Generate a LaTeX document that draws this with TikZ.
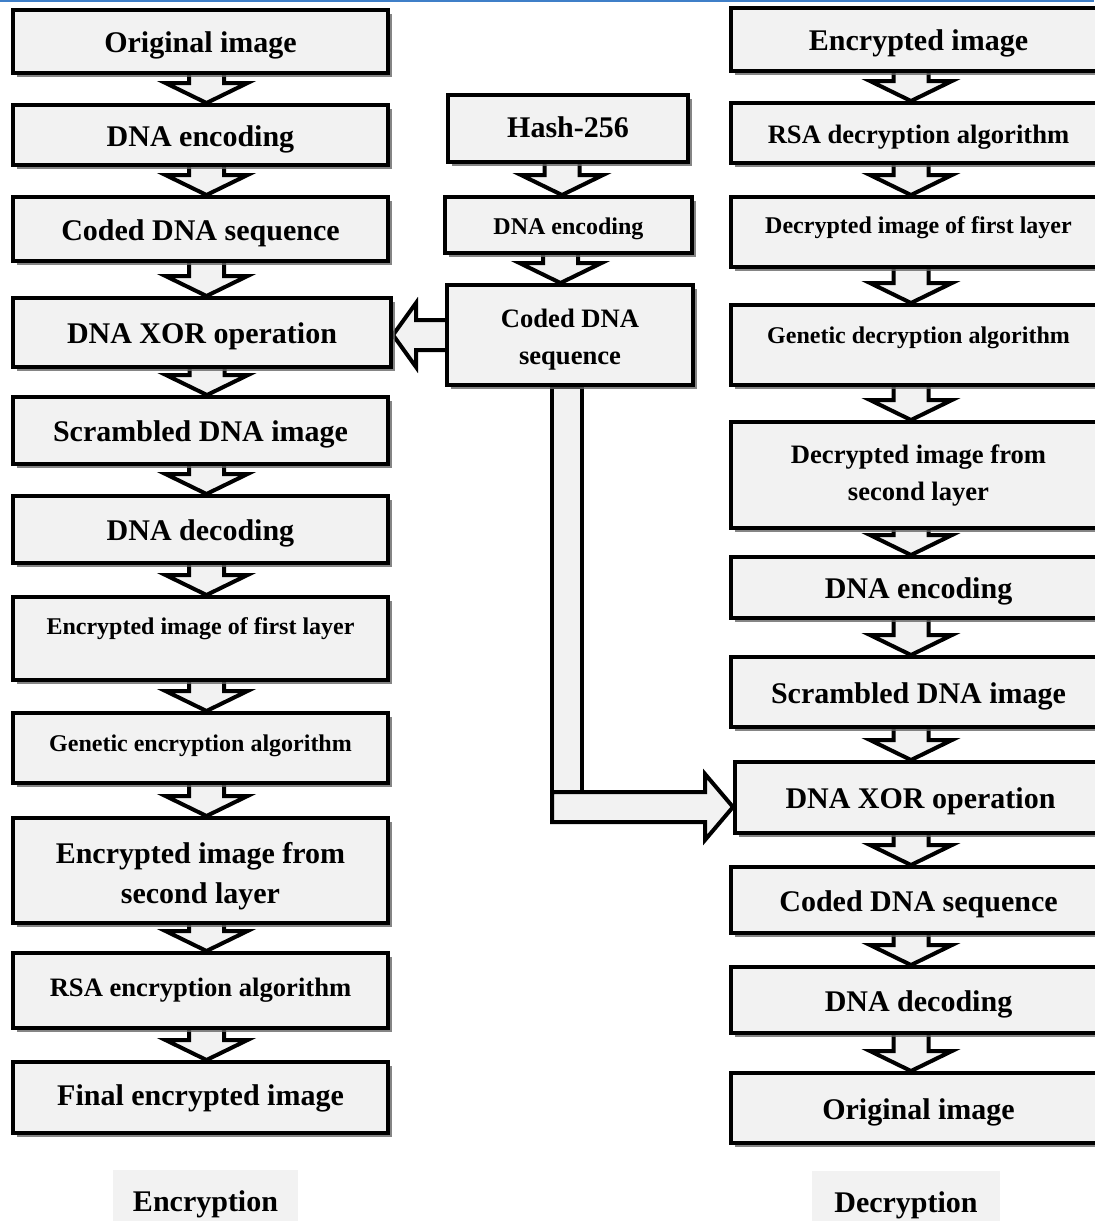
\documentclass[tikz,border=0pt]{standalone}
\usepackage{fontspec}
\setmainfont{Liberation Serif}
\usetikzlibrary{calc,shadows,backgrounds}

\definecolor{boxgray}{HTML}{F2F2F2}
\definecolor{pageblue}{HTML}{3F7FC8}

\tikzset{
  stepbox/.style={draw, line width=2pt, fill=boxgray, inner sep=0pt, align=center,
    font=\bfseries\fontsize{15}{20}\selectfont, text height=14.35pt, text depth=3.3pt,
    drop shadow={shadow xshift=1.8pt, shadow yshift=-1.8pt, fill=black!60, opacity=.8}},
  leftcol/.style={stepbox, minimum width=187.5pt},
  rightcol/.style={stepbox, minimum width=187.5pt},
  midtext/.style={font=\bfseries\fontsize{13.3}{18.5}\selectfont, text height=13.2pt, text depth=2.9pt},
  smalltext/.style={font=\bfseries\fontsize{12}{14}\selectfont, text height=12.3pt, text depth=2.6pt},
  blockarrow/.style={draw, line width=2pt, fill=boxgray, line join=miter},
  tagbox/.style={fill=boxgray, inner sep=0pt, font=\bfseries\fontsize{15}{20}\selectfont,
    text height=17.35pt, text depth=3.3pt},
}

% fat hollow arrow from the bottom of #1 down to the top of #2, shifted by #3
\newcommand{\downblock}[3]{%
  \draw[blockarrow] let \p1=($(#1.south)+(#3,0)$), \p2=(#2.north) in
    (\x1-8.75pt,\y1) -- (\x1-8.75pt,\y2+10pt) -- (\x1-20.5pt,\y2+10pt) -- (\x1,\y2)
    -- (\x1+20.5pt,\y2+10pt) -- (\x1+8.75pt,\y2+10pt) -- (\x1+8.75pt,\y1);
}

\begin{document}
\begin{tikzpicture}[x=0.5pt,y=-0.5pt]
    \path[use as bounding box] (0,0) rectangle (1094,1221);
    \draw[pageblue, line width=1pt] (0,1) -- (1094,1);

    % encryption
    \node[leftcol, minimum height=31.5pt] (l1) at (200.5,41.5) {Original image};
    \node[leftcol, minimum height=30pt] (l2) at (200.5,135) {DNA encoding};
    \node[leftcol, minimum height=32pt] (l3) at (200.5,229) {Coded DNA sequence};
    \node[stepbox, minimum width=189pt, minimum height=34.5pt] (l4) at (202,332.5) {DNA XOR operation};
    \node[leftcol, minimum height=33.5pt] (l5) at (200.5,430.5) {Scrambled DNA image};
    \node[leftcol, minimum height=33.5pt] (l6) at (200.5,529.5) {DNA decoding};
    \node[leftcol, smalltext, text depth=16.6pt, minimum height=41.5pt] (l7) at (200.5,638.5) {Encrypted image of first layer};
    \node[leftcol, smalltext, text depth=8.6pt, minimum height=35pt] (l8) at (200.5,748) {Genetic encryption algorithm};
    \node[leftcol, text height=36.3pt, minimum height=52.5pt] (l9) at (200.5,870.5) {Encrypted image from\\second layer};
    \node[leftcol, midtext, text depth=6.9pt, minimum height=37.5pt] (l10) at (200.5,990.5) {RSA encryption algorithm};
    \node[leftcol, text depth=6.3pt, minimum height=35.5pt] (l11) at (200.5,1097.5) {Final encrypted image};

    % key
    \node[stepbox, text depth=5.3pt, minimum width=120pt, minimum height=33.5pt] (m1) at (568,128.5) {Hash-256};
    \node[stepbox, smalltext, minimum width=123.5pt, minimum height=28pt] (m2) at (568.5,225) {DNA encoding};
    \node[stepbox, midtext, text height=32.6pt, minimum width=123pt, minimum height=50pt] (m3) at (570,335) {Coded DNA\\sequence};

    % decryption
    \node[rightcol, minimum height=31.5pt] (r1) at (918.5,39.5) {Encrypted image};
    \node[rightcol, midtext, minimum height=30pt] (r2) at (918.5,133) {RSA decryption algorithm};
    \node[rightcol, smalltext, text depth=10.6pt, minimum height=35pt] (r3) at (918.5,232) {Decrypted image of first layer};
    \node[rightcol, smalltext, text depth=13.6pt, minimum height=40pt] (r4) at (918.5,345) {Genetic decryption algorithm};
    \node[rightcol, midtext, text height=28.7pt, minimum height=53pt] (r5) at (918.5,475) {Decrypted image from\\second layer};
    \node[rightcol, minimum height=30.5pt] (r6) at (918.5,587.5) {DNA encoding};
    \node[rightcol, minimum height=35pt] (r7) at (918.5,692) {Scrambled DNA image};
    \node[stepbox, minimum width=185.5pt, minimum height=35.5pt] (r8) at (920.5,797.5) {DNA XOR operation};
    \node[rightcol, minimum height=33pt] (r9) at (918.5,900) {Coded DNA sequence};
    \node[rightcol, minimum height=33pt] (r10) at (918.5,1000) {DNA decoding};
    \node[rightcol, minimum height=35pt] (r11) at (918.5,1108) {Original image};

    \node[tagbox, minimum width=92.5pt, minimum height=27.5pt] (enc) at (205.5,1197.5) {Encryption};
    \node[tagbox, minimum width=94pt, minimum height=27.5pt] (dec) at (906,1198.5) {Decryption};

    \coordinate (turn) at ($(m3.south)+(-3,420)$);

    \begin{pgfonlayer}{background}
    \downblock{l1}{l2}{6}
    \downblock{l2}{l3}{6}
    \downblock{l3}{l4}{6}
    \downblock{l4}{l5}{5}
    \downblock{l5}{l6}{6}
    \downblock{l6}{l7}{6}
    \downblock{l7}{l8}{6}
    \downblock{l8}{l9}{6}
    \downblock{l9}{l10}{6}
    \downblock{l10}{l11}{6}

    \downblock{m1}{m2}{-6}
    \downblock{m2}{m3}{-8}

    \downblock{r1}{r2}{-7.5}
    \downblock{r2}{r3}{-7.5}
    \downblock{r3}{r4}{-7.5}
    \downblock{r4}{r5}{-7.5}
    \downblock{r5}{r6}{-7.5}
    \downblock{r6}{r7}{-7.5}
    \downblock{r7}{r8}{-7.5}
    \downblock{r8}{r9}{-9.5}
    \downblock{r9}{r10}{-7.5}
    \downblock{r10}{r11}{-7.5}

    % key into the two xor steps
    \draw[blockarrow] let \p1=(m3.west), \p2=(l4.east) in
      (\x1,\y1+7.5pt) -- (\x2+11.5pt,\y1+7.5pt) -- (\x2+11.5pt,\y1+16pt) -- (\x2,\y1)
      -- (\x2+11.5pt,\y1-16pt) -- (\x2+11.5pt,\y1-7.5pt) -- (\x1,\y1-7.5pt);
    \draw[blockarrow] let \p1=($(m3.south)+(-3,0)$), \p2=(turn) in
      (\x1-7.5pt,\y1) rectangle (\x1+7.5pt,\y2-7.5pt);
    \draw[blockarrow] let \p1=(turn), \p2=(r8.west) in
      (\x1-7.5pt,\y1+7.5pt) -- (\x2-14pt,\y1+7.5pt) -- (\x2-14pt,\y1+16.5pt) -- (\x2,\y1)
      -- (\x2-14pt,\y1-16.5pt) -- (\x2-14pt,\y1-7.5pt) -- (\x1-7.5pt,\y1-7.5pt) -- cycle;
    \end{pgfonlayer}
\end{tikzpicture}
\end{document}
